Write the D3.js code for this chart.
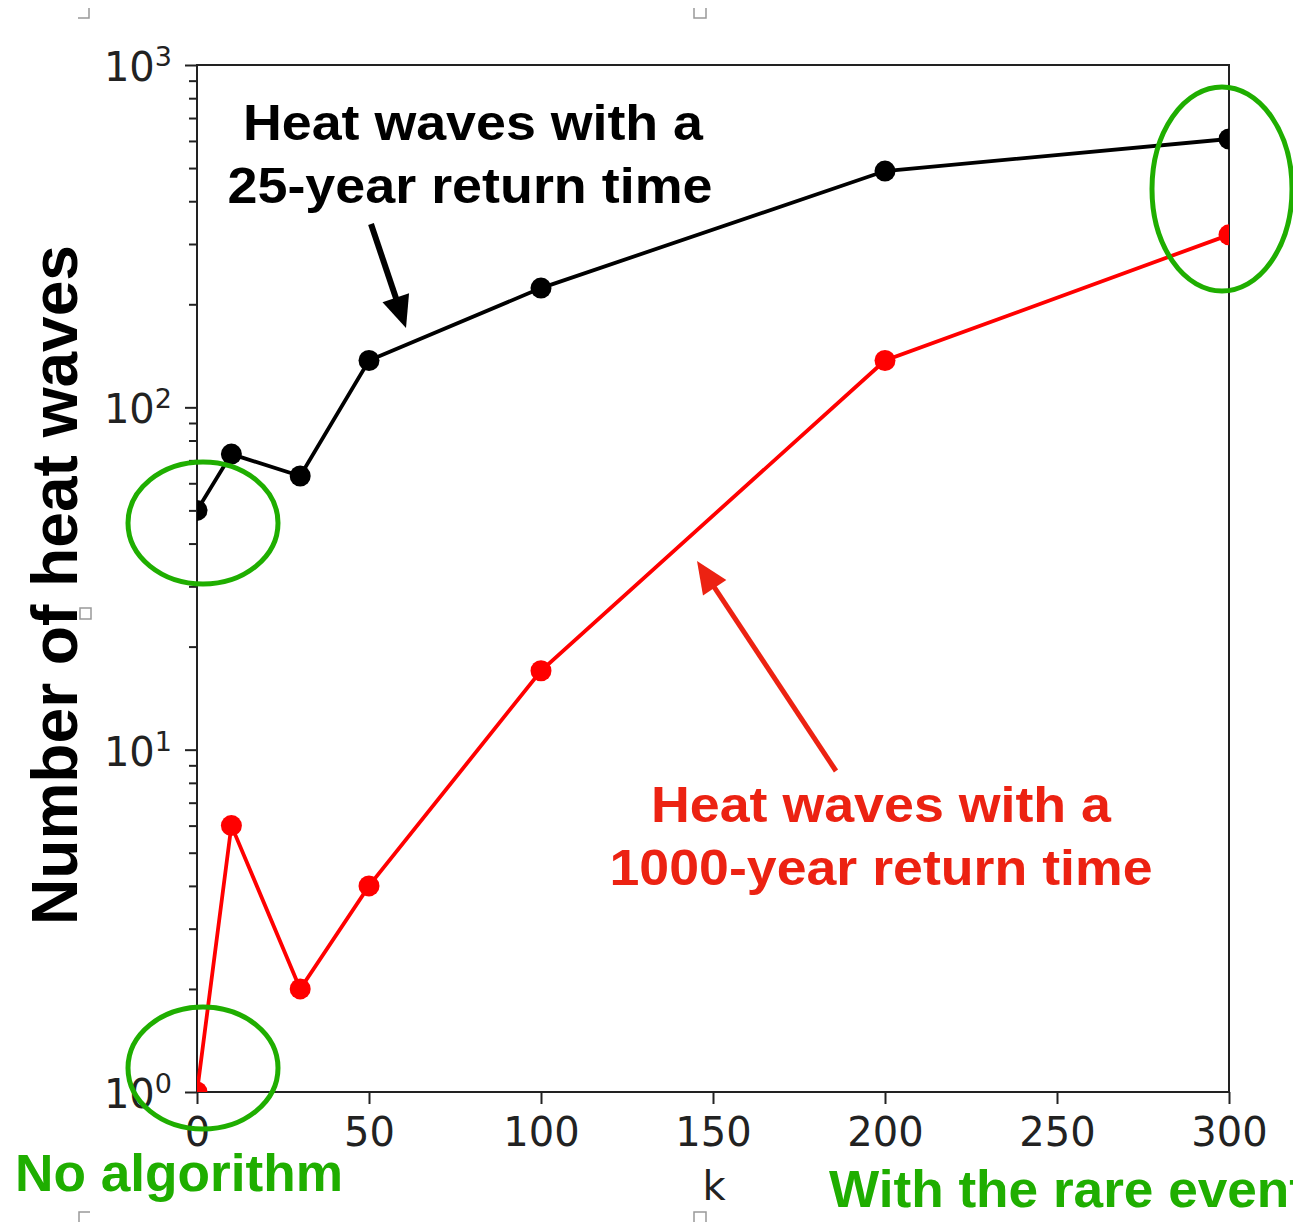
<!DOCTYPE html>
<html>
<head>
<meta charset="utf-8">
<script src="https://cdn.jsdelivr.net/npm/d3@7"></script>
<style>
  html, body { margin: 0; padding: 0; background: #fff; }
  svg { display: block; }
</style>
</head>
<body>
<script>
// ---- data ----
const kValues = [0, 10, 30, 50, 100, 200, 300];
const heatWaves25yr = [50, 73, 63, 137, 223, 490, 608];
const heatWaves1000yr = [1, 6, 2, 4, 17, 137, 319];
const xTickValues = [0, 50, 100, 150, 200, 250, 300];
const yMajorTicks = [1, 10, 100, 1000];
const yTickExponents = ["0", "1", "2", "3"];

const W = 1293, H = 1222;
const svg = d3.select("body").append("svg").attr("width", W).attr("height", H);

const x = d3.scaleLinear().domain([0, 300]).range([197, 1229]);
const y = d3.scaleLog().domain([1, 1000]).range([1092, 65]);

const GREEN = "#1fae00";
const RED_TXT = "#ec2212";

// clip
svg.append("defs").append("clipPath").attr("id", "plotclip")
  .append("rect").attr("x", 197).attr("y", 65).attr("width", 1032).attr("height", 1027);

// minor y ticks
const minor = [];
for (let d = 1; d <= 100; d *= 10) for (let m = 2; m <= 9; m++) minor.push(d * m);
const gMinor = svg.append("g").attr("transform", "translate(197,0)")
  .call(d3.axisLeft(y).tickValues(minor).tickSize(8).tickFormat(""));
gMinor.select(".domain").remove();
gMinor.selectAll("line").attr("stroke", "#222").attr("stroke-width", 2);

// major y ticks
const gY = svg.append("g").attr("transform", "translate(197,0)")
  .call(d3.axisLeft(y).tickValues(yMajorTicks).tickSize(12).tickFormat(""));
gY.select(".domain").remove();
gY.selectAll("line").attr("stroke", "#222").attr("stroke-width", 2);

// y tick labels with superscripts
yMajorTicks.forEach((v, i) => {
  const t = svg.append("text")
    .attr("x", 172).attr("y", y(v) + 16)
    .attr("text-anchor", "end")
    .attr("font-family", "DejaVu Sans")
    .attr("font-size", 40)
    .attr("fill", "#222");
  t.append("tspan").text("10");
  t.append("tspan").attr("font-size", 27).attr("dy", -15).text(yTickExponents[i]);
});

// x axis
const gX = svg.append("g").attr("transform", "translate(0,1092)")
  .call(d3.axisBottom(x).tickValues(xTickValues).tickSize(12).tickFormat(d3.format("d")));
gX.select(".domain").remove();
gX.selectAll("line").attr("stroke", "#222").attr("stroke-width", 2);
gX.selectAll("text").attr("y", 54).attr("dy", 0)
  .attr("font-family", "DejaVu Sans").attr("font-size", 40).attr("fill", "#222");

// frame
svg.append("rect").attr("x", 197).attr("y", 65).attr("width", 1032).attr("height", 1027)
  .attr("fill", "none").attr("stroke", "#222").attr("stroke-width", 2);

// x label
svg.append("text").attr("x", 714).attr("y", 1200).attr("text-anchor", "middle")
  .attr("font-family", "DejaVu Sans").attr("font-size", 40).attr("fill", "#222").text("k");

// y label
svg.append("text")
  .attr("transform", "translate(77,585) rotate(-90)")
  .attr("text-anchor", "middle")
  .attr("font-family", "Liberation Sans").attr("font-weight", "bold")
  .attr("font-size", 64).attr("fill", "#000")
  .attr("textLength", 680).attr("lengthAdjust", "spacingAndGlyphs")
  .text("Number of heat waves");

// series
const plot = svg.append("g").attr("clip-path", "url(#plotclip)");
const line = d3.line().x(d => x(d[0])).y(d => y(d[1]));
const series = [
  { vals: heatWaves25yr, color: "#000" },
  { vals: heatWaves1000yr, color: "#ff0000" }
];
series.forEach(s => {
  const pts = kValues.map((k, i) => [k, s.vals[i]]);
  plot.append("path").datum(pts).attr("d", line)
    .attr("fill", "none").attr("stroke", s.color).attr("stroke-width", 3.8);
  plot.selectAll(null).data(pts).enter().append("circle")
    .attr("cx", d => x(d[0])).attr("cy", d => y(d[1])).attr("r", 10.5)
    .attr("fill", s.color);
});

// green ellipses
[[203, 523, 75, 61], [203, 1068, 75, 61], [1222, 189, 70, 102]].forEach(e => {
  svg.append("ellipse").attr("cx", e[0]).attr("cy", e[1]).attr("rx", e[2]).attr("ry", e[3])
    .attr("fill", "none").attr("stroke", GREEN).attr("stroke-width", 5);
});

// annotation text
function boldText(txt, cx, base, len, size, color) {
  svg.append("text").attr("x", cx).attr("y", base).attr("text-anchor", "middle")
    .attr("font-family", "Liberation Sans").attr("font-weight", "bold")
    .attr("font-size", size).attr("fill", color)
    .attr("textLength", len).attr("lengthAdjust", "spacingAndGlyphs")
    .text(txt);
}
boldText("Heat waves with a", 473, 140, 460, 50, "#000");
boldText("25-year return time", 470, 203, 485, 50, "#000");
boldText("Heat waves with a", 881, 822, 460, 50, RED_TXT);
boldText("1000-year return time", 881, 885, 543, 50, RED_TXT);
boldText("No algorithm", 179, 1191, 328, 51, GREEN);
svg.append("text").attr("x", 829).attr("y", 1207)
  .attr("font-family", "Liberation Sans").attr("font-weight", "bold")
  .attr("font-size", 52).attr("fill", GREEN)
  .attr("textLength", 478).attr("lengthAdjust", "spacingAndGlyphs")
  .text("With the rare event");

// arrows
function arrow(x1, y1, x2, y2, color, w) {
  const dx = x2 - x1, dy = y2 - y1, L = Math.hypot(dx, dy);
  const ux = dx / L, uy = dy / L, px = -uy, py = ux;
  const hl = 32, hw = 14;
  const bx = x2 - ux * hl, by = y2 - uy * hl;
  svg.append("line").attr("x1", x1).attr("y1", y1).attr("x2", bx + ux * 2).attr("y2", by + uy * 2)
    .attr("stroke", color).attr("stroke-width", w);
  svg.append("path")
    .attr("d", `M${x2},${y2}L${bx + px * hw},${by + py * hw}L${bx - px * hw},${by - py * hw}Z`)
    .attr("fill", color);
}
arrow(371, 224, 406, 328, "#000", 6);
arrow(836, 771, 697, 561, RED_TXT, 5);

// page corner marks
const marks = [
  "M78,18 H89 V8",
  "M694,8 V18 H706 V8",
  "M80,608 H91 V619 H80 Z",
  "M79,1222 V1212 H90",
  "M694,1222 V1212 H706 V1222"
];
marks.forEach(m => svg.append("path").attr("d", m).attr("fill", "none")
  .attr("stroke", "#999").attr("stroke-width", 1.5));
</script>
</body>
</html>
